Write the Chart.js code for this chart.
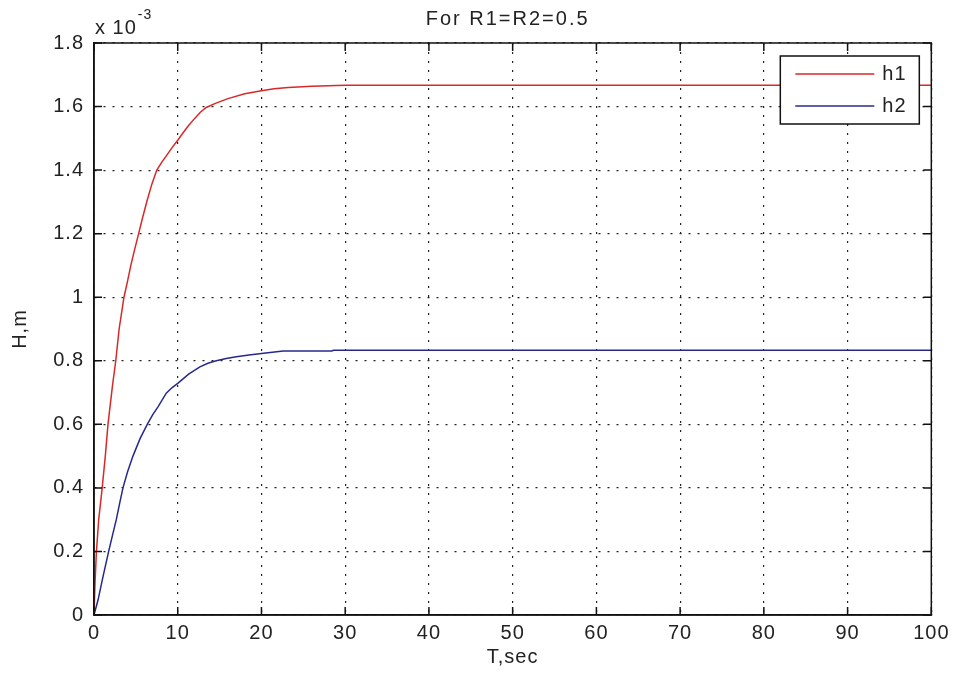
<!DOCTYPE html>
<html><head><meta charset="utf-8">
<script src="https://cdn.jsdelivr.net/npm/chart.js@4.4.0/dist/chart.umd.min.js"></script>
<style>html,body{margin:0;padding:0;background:#fff;overflow:hidden}canvas{display:block}</style>
</head><body>
<canvas id="c" width="954" height="677"></canvas>
<script>
// ---- data (H in units of 1e-3 m, T in s) ----
const chartTitle = 'For R1=R2=0.5';
const xLabel = 'T,sec';
const yLabel = 'H,m';
const yExponent = '-3';
const seriesNames = ['h1', 'h2'];
const h1T = [0, 0.12, 0.28, 0.56, 0.95, 1.35, 1.67, 2.2, 2.6, 3.0, 3.58, 4.0, 4.4, 4.85, 5.33, 5.8, 6.36, 6.9, 7.5, 8.1, 8.7, 9.3, 10, 10.6, 11.2, 12, 12.7, 13.4, 14.5, 16, 18, 20, 21.5, 23.2, 26, 30, 100];
const h1V = [0, 0.10, 0.195, 0.30, 0.393, 0.50, 0.60, 0.72, 0.80, 0.90, 1.0, 1.05, 1.10, 1.15, 1.20, 1.25, 1.306, 1.355, 1.40, 1.425, 1.447, 1.47, 1.494, 1.516, 1.537, 1.562, 1.582, 1.597, 1.61, 1.625, 1.64, 1.65, 1.656, 1.66, 1.664, 1.6667, 1.6667];
const h2T = [0, 0.48, 1.07, 1.75, 2.2, 2.66, 3.05, 3.46, 4.0, 4.65, 5.5, 6.36, 7.0, 7.64, 8.63, 9.3, 10, 11.3, 12.65, 13.6, 14.6, 15.8, 17, 18.5, 20, 22.6, 28.4, 28.6, 100];
const h2V = [0, 0.047, 0.12, 0.20, 0.25, 0.30, 0.35, 0.40, 0.45, 0.50, 0.555, 0.60, 0.63, 0.655, 0.698, 0.715, 0.729, 0.758, 0.781, 0.792, 0.80, 0.807, 0.813, 0.818, 0.823, 0.831, 0.831, 0.8333, 0.8333];
const xTicks = [0, 10, 20, 30, 40, 50, 60, 70, 80, 90, 100];
const yTicks = [0, 0.2, 0.4, 0.6, 0.8, 1.0, 1.2, 1.4, 1.6, 1.8];
const yTickLabels = ['0', '0.2', '0.4', '0.6', '0.8', '1', '1.2', '1.4', '1.6', '1.8'];

const FONT = "'Liberation Sans', Arial, sans-serif";
const TXT = '#222';
const colors = ['#d82828', '#28288c'];

const toPts = (T, V) => T.map((t, i) => ({x: t, y: V[i]}));

const decor = {
  id: 'decor',
  beforeDraw(chart) {
    const ctx = chart.ctx;
    ctx.fillStyle = '#fff';
    ctx.fillRect(0, 0, chart.width, chart.height);
    ctx.letterSpacing = '1px';
  },
  afterDatasetsDraw(chart) {
    const {ctx, chartArea: a, scales: {x, y}} = chart;
    ctx.save();
    ctx.strokeStyle = '#111';
    ctx.lineWidth = 1.5;
    ctx.strokeRect(a.left, a.top, a.right - a.left, a.bottom - a.top);
    ctx.beginPath();
    xTicks.forEach(v => {
      const p = x.getPixelForValue(v);
      ctx.moveTo(p, a.bottom); ctx.lineTo(p, a.bottom - 8);
      ctx.moveTo(p, a.top); ctx.lineTo(p, a.top + 8);
    });
    yTicks.forEach(v => {
      const p = y.getPixelForValue(v);
      ctx.moveTo(a.left, p); ctx.lineTo(a.left + 8, p);
      ctx.moveTo(a.right, p); ctx.lineTo(a.right - 8, p);
    });
    ctx.stroke();

    // title
    ctx.fillStyle = TXT;
    ctx.letterSpacing = '2px';
    ctx.font = '20px ' + FONT;
    ctx.textAlign = 'center';
    ctx.textBaseline = 'middle';
    ctx.fillText(chartTitle, (a.left + a.right) / 2 - 5, 19);

    // exponent
    ctx.letterSpacing = '1px';
    ctx.textAlign = 'left';
    ctx.textBaseline = 'alphabetic';
    ctx.fillText('x 10', a.left + 1, 34);
    const w = ctx.measureText('x 10').width;
    ctx.font = '14px ' + FONT;
    ctx.fillText(yExponent, a.left + 1 + w + 1, 19);

    // legend
    const bx = a.right - 151, by = a.top + 13, bw = 139, bh = 68;
    ctx.fillStyle = '#fff';
    ctx.fillRect(bx, by, bw, bh);
    ctx.lineWidth = 1.5;
    ctx.strokeStyle = '#111';
    ctx.strokeRect(bx, by, bw, bh);
    ctx.font = '20px ' + FONT;
    ctx.textBaseline = 'middle';
    chart.data.datasets.forEach((ds, i) => {
      const ly = by + 18 + i * 32;
      ctx.strokeStyle = ds.borderColor;
      ctx.lineWidth = 1.5;
      ctx.beginPath();
      ctx.moveTo(bx + 15, ly); ctx.lineTo(bx + 94, ly);
      ctx.stroke();
      ctx.fillStyle = TXT;
      ctx.fillText(ds.label, bx + 102, ly);
    });
    ctx.restore();
  }
};

new Chart(document.getElementById('c'), {
  type: 'line',
  data: {
    datasets: [
      {label: seriesNames[0], data: toPts(h1T, h1V), borderColor: colors[0], borderWidth: 1.5, pointRadius: 0, tension: 0, fill: false},
      {label: seriesNames[1], data: toPts(h2T, h2V), borderColor: colors[1], borderWidth: 1.5, pointRadius: 0, tension: 0, fill: false}
    ]
  },
  options: {
    responsive: false,
    animation: false,
    devicePixelRatio: 1,
    layout: {padding: {left: 0, right: 22, top: 43, bottom: 0}},
    plugins: {legend: {display: false}, title: {display: false}, tooltip: {enabled: false}},
    scales: {
      x: {
        type: 'linear', min: 0, max: 100,
        afterBuildTicks: s => { s.ticks = xTicks.map(v => ({value: v})); },
        afterFit: s => { s.height = 62; },
        ticks: {color: TXT, font: {family: FONT, size: 20}, padding: 6, maxRotation: 0, autoSkip: false},
        grid: {color: '#222', lineWidth: 1.2, drawTicks: false},
        border: {display: true, color: '#111', width: 1.5, dash: [2, 7]},
        title: {display: true, text: xLabel, color: TXT, font: {family: FONT, size: 20}, padding: {top: 0, bottom: 8}}
      },
      y: {
        type: 'linear', min: 0, max: 1.8,
        afterBuildTicks: s => { s.ticks = yTicks.map(v => ({value: v})); },
        afterFit: s => { s.width = 94; },
        ticks: {color: TXT, font: {family: FONT, size: 20}, padding: 10,
          callback: (v) => { const i = yTicks.findIndex(t => Math.abs(t - v) < 1e-9); return i >= 0 ? yTickLabels[i] : ''; }},
        grid: {color: '#222', lineWidth: 1.2, drawTicks: false},
        border: {display: true, color: '#111', width: 1.5, dash: [2, 7]},
        title: {display: true, text: yLabel, color: TXT, font: {family: FONT, size: 20}, padding: {top: 8, bottom: 0}}
      }
    }
  },
  plugins: [decor]
});
</script>
</body></html>
